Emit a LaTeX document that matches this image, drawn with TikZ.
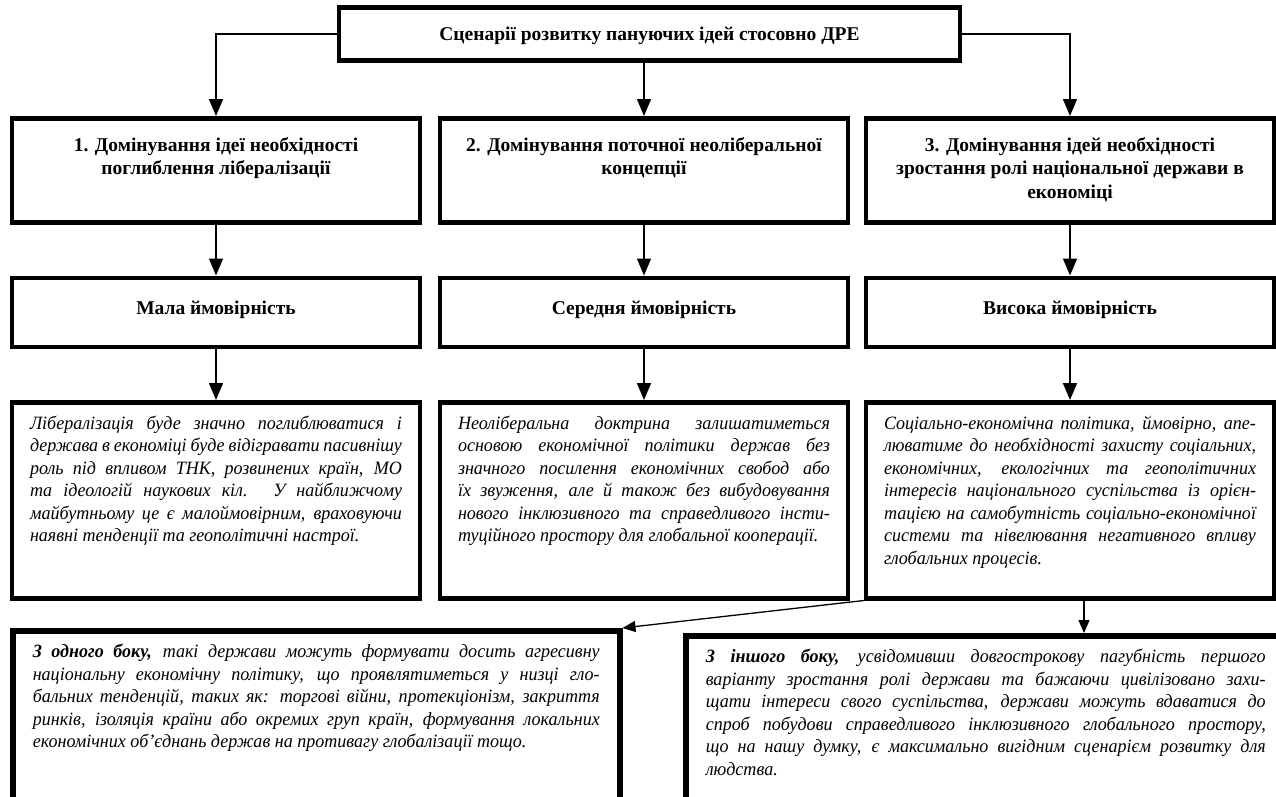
\documentclass[tikz,border=0pt]{standalone}
\usepackage{fontspec}
\setmainfont{Liberation Serif}
\newfontfamily\bodyfont{Liberation Serif}[FakeStretch=0.96]
\usetikzlibrary{arrows.meta,positioning}
\newcommand{\jl}[1]{\makebox[\linewidth][s]{#1}\\}
\newcommand{\headcell}[4]{\parbox[c][#1][t]{#2}{\centering\rule{0pt}{#3}#4}}
\newcommand{\textcell}[4]{\parbox[c][#1][t]{#2}{\rule{0pt}{#3}#4}}

\begin{document}
\begin{tikzpicture}[x=1pt, y=1pt, node distance=51pt]
\tikzstyle{head}=[draw, line width=4.5pt, inner xsep=5pt, inner ysep=0pt, font=\fontsize{19.5}{23.5}\selectfont\bfseries]
\tikzstyle{body}=[draw, line width=4.5pt, inner xsep=18pt, inner ysep=0pt, font=\bodyfont\fontsize{18.8}{22.5}\selectfont\itshape]
\tikzstyle{link}=[-{Triangle[length=17pt,width=14pt]}, line width=1.5pt]
\tikzstyle{sublink}=[-{Triangle[length=13pt,width=11pt]}, line width=1.3pt]
\useasboundingbox (0,0) rectangle (1276,-796);
\clip (0,0) rectangle (1276,-796);

\node[head, anchor=north] (top) at (649.5,-5) {\headcell{53pt}{611pt}{33pt}{Сценарії розвитку пануючих ідей стосовно ДРЕ}};

% scenarios
\node[head, anchor=north] (s1) at (216,-116) {\headcell{104pt}{398pt}{33pt}{1. Домінування ідеї необхідності\\ поглиблення лібералізації}};
\node[head, anchor=north] (s2) at (644,-116) {\headcell{104pt}{398pt}{33pt}{2. Домінування поточної неоліберальної\\ концепції}};
\node[head, anchor=north] (s3) at (1070,-116) {\headcell{104pt}{398pt}{33pt}{3. Домінування ідей необхідності\\ зростання ролі національної держави в\\ економіці}};

% probability
\node[head, below=of s1] (p1) {\headcell{69pt}{398pt}{37pt}{Мала ймовірність}};
\node[head, below=of s2] (p2) {\headcell{69pt}{398pt}{37pt}{Середня ймовірність}};
\node[head, below=of s3] (p3) {\headcell{69pt}{398pt}{37pt}{Висока ймовірність}};

% description
\node[body, below=of p1] (d1) {\textcell{196pt}{372pt}{27pt}{\jl{Лібералізація буде значно поглиблюватися і}\jl{держава в економіці буде відігравати пасивнішу}\jl{роль під впливом ТНК, розвинених країн, МО}\jl{та ідеологій наукових кіл. У найближчому}\jl{майбутньому це є малоймовірним, враховуючи}наявні тенденції та геополітичні настрої.}};
\node[body, below=of p2] (d2) {\textcell{196pt}{372pt}{27pt}{\jl{Неоліберальна доктрина залишатиметься}\jl{основою економічної політики держав без}\jl{значного посилення економічних свобод або}\jl{їх звуження, але й також без вибудовування}\jl{нового інклюзивного та справедливого інсти-}туційного простору для глобальної кооперації.}};
\node[body, below=of p3] (d3) {\textcell{196pt}{372pt}{27pt}{\jl{Соціально-економічна політика, ймовірно, апе-}\jl{люватиме до необхідності захисту соціальних,}\jl{економічних, екологічних та геополітичних}\jl{інтересів національного суспільства із орієн-}\jl{тацією на самобутність соціально-економічної}\jl{системи та нівелювання негативного впливу}глобальних процесів.}};

% two ways of the third scenario
\node[body, line width=5.5pt, inner xsep=20pt, anchor=north west] (way1) at (10,-628) {\textcell{200pt}{567pt}{27pt}{\jl{\textbf{З одного боку,} такі держави можуть формувати досить агресивну}\jl{національну економічну політику, що проявлятиметься у низці гло-}\jl{бальних тенденцій, таких як: торгові війни, протекціонізм, закриття}\jl{ринків, ізоляція країни або окремих груп країн, формування локальних}економічних об’єднань держав на противагу глобалізації тощо.}};
\node[body, line width=5.5pt, inner xsep=20pt, anchor=north west] (way2) at (683,-633) {\textcell{200pt}{560pt}{27pt}{\jl{\textbf{З іншого боку,} усвідомивши довгострокову пагубність першого}\jl{варіанту зростання ролі держави та бажаючи цивілізовано захи-}\jl{щати інтереси свого суспільства, держави можуть вдаватися до}\jl{спроб побудови справедливого інклюзивного глобального простору,}\jl{що на нашу думку, є максимально вигідним сценарієм розвитку для}людства.}};

\draw[link] (top.west) -| (s1.north); %
\draw[link] (s2.north |- top.south) -- (s2.north); %
\draw[link] (top.east) -| (s3.north); %
\foreach \i in {1,2,3} {
  \draw[link] (s\i) -- (p\i); %
  \draw[link] (p\i) -- (d\i); %
}
\draw[sublink] (d3.south west) -- (way1.north east); %
\draw[sublink] ([xshift=14pt]d3.south) -- ([xshift=14pt]d3.south |- way2.north); %
\end{tikzpicture}
\end{document}
